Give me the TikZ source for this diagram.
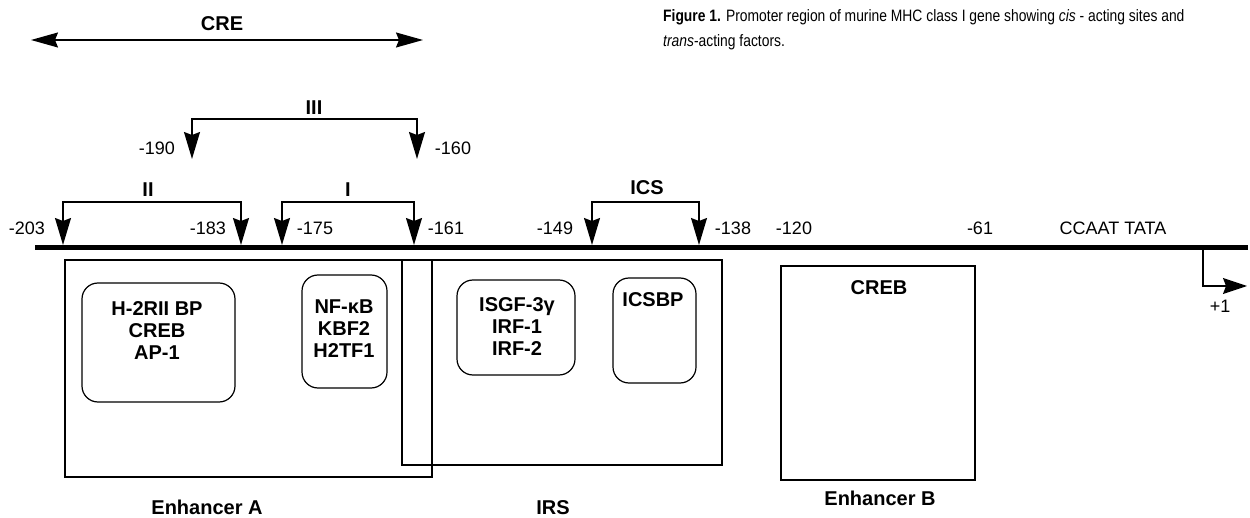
\documentclass[tikz,border=0pt]{standalone}
\usepackage{fontspec}
\setmainfont{Liberation Sans}
\newfontfamily\narrowfont[FakeStretch=0.84]{Liberation Sans}
\usetikzlibrary{arrows.meta,calc}
\begin{document}
\begin{tikzpicture}[x=1pt,y=-1pt,
  num/.style={font=\fontsize{18}{20}\selectfont, inner sep=0pt},
  lbl/.style={font=\bfseries\fontsize{20}{22}\selectfont, inner sep=0pt},
  boxtxt/.style={font=\bfseries\fontsize{20}{22}\selectfont, align=center, inner sep=0pt},
  region/.style={draw, line width=1.3pt, rectangle, inner sep=0pt},
  rbox/.style={draw, line width=1.2pt, rounded corners=16pt, inner sep=0pt},
  dtip/.tip={Stealth[length=27pt,width=16pt,inset=3pt]},
  brk/.style={line width=1.4pt, dtip-dtip},
  capt/.style={anchor=base west, font=\narrowfont\fontsize{16.5}{20}\selectfont, inner sep=0pt}
]
\useasboundingbox (0,0) rectangle (1250,518);

% CRE double arrow
\coordinate (creL) at (31,40);
\coordinate (creR) at (423,40);
\draw[line width=1.4pt, {Stealth[length=27pt,width=15pt,inset=3pt]}-{Stealth[length=27pt,width=15pt,inset=3pt]}] (creL) -- (creR);
\node[lbl] (cre) at (222,24) {CRE};

% caption
\node[capt] (cap1) at (663,22) {\textbf{Figure 1.} Promoter region of murine MHC class I gene showing \textit{cis} - acting sites and};
\node[capt] (cap2) at (663,47) {\textit{trans}-acting factors.};

% main DNA line
\coordinate (mL) at (35,248);
\coordinate (mR) at (1248,248);
\draw[line width=5pt] (mL) -- (mR);

% marker tips
\coordinate (t203) at (63,245);
\coordinate (t183) at (241,245);
\coordinate (t175) at (282,245);
\coordinate (t161) at (414,245);
\coordinate (t190) at (192,159);
\coordinate (t160) at (417,159);
\coordinate (t149) at (592,245);
\coordinate (t138) at (699,245);
\coordinate (h2) at (0,202);
\coordinate (h3) at (0,119);

\draw[brk] (t190) -- (t190 |- h3) -- (t160 |- h3) -- (t160);
\draw[brk] (t203) -- (t203 |- h2) -- (t183 |- h2) -- (t183);
\draw[brk] (t175) -- (t175 |- h2) -- (t161 |- h2) -- (t161);
\draw[brk] (t149) -- (t149 |- h2) -- (t138 |- h2) -- (t138);

\node[lbl] (lIII) at (314,108) {III};
\node[lbl] (lII) at (148,190) {II};
\node[lbl] (lI) at (348,190) {I};
\node[lbl] (lICS) at (647,188) {ICS};

\node[num] (n190) at (157,148) {-190};
\node[num] (n160) at (453,148) {-160};
\node[num] (n203) at (27,228) {-203};
\node[num] (n183) at (208,228) {-183};
\node[num] (n175) at (315,228) {-175};
\node[num] (n161) at (446,228) {-161};
\node[num] (n149) at (555,228) {-149};
\node[num] (n138) at (733,228) {-138};
\node[num] (n120) at (794,228) {-120};
\node[num] (n61) at (980,228) {-61};
\node[num] (ccaat) at (1113,228) {CCAAT TATA};

% transcription start
\coordinate (tss) at (1203,248);
\coordinate (tssE) at (1247,286);
\draw[line width=1.4pt, -{Stealth[length=24pt,width=16pt,inset=3pt]}] (tss) |- (tssE);
\node[num] (plus1) at (1220,306) {+1};

% regions
\node[region, minimum width=367pt, minimum height=217pt] (encA) at (248.5,368.5) {};
\node[region, minimum width=320pt, minimum height=205pt] (irs) at (562,362.5) {};
\node[region, minimum width=194pt, minimum height=214pt] (encB) at (878,373) {};

% factor boxes
\node[rbox, minimum width=153pt, minimum height=119pt] (rb1) at (158.5,342.5) {};
\node[rbox, minimum width=85pt, minimum height=113pt] (rb2) at (344.5,331.5) {};
\node[rbox, minimum width=118pt, minimum height=95pt] (rb3) at (516,327.5) {};
\node[rbox, minimum width=83pt, minimum height=105pt] (rb4) at (654.5,330.5) {};

\node[boxtxt] (f1) at (157,331) {H-2RII BP\\CREB\\AP-1};
\node[boxtxt] (f2) at (344,329) {NF-κB\\KBF2\\H2TF1};
\node[boxtxt] (f3) at (517,327) {ISGF-3γ\\IRF-1\\IRF-2};
\node[boxtxt] (f4) at (653,300) {ICSBP};
\node[boxtxt] (f5) at (879,288) {CREB};

\node[lbl] (lEA) at (207,507) {Enhancer A};
\node[lbl] (lIRS) at (553,508) {IRS};
\node[lbl] (lEB) at (880,498) {Enhancer B};
\end{tikzpicture}
\end{document}
